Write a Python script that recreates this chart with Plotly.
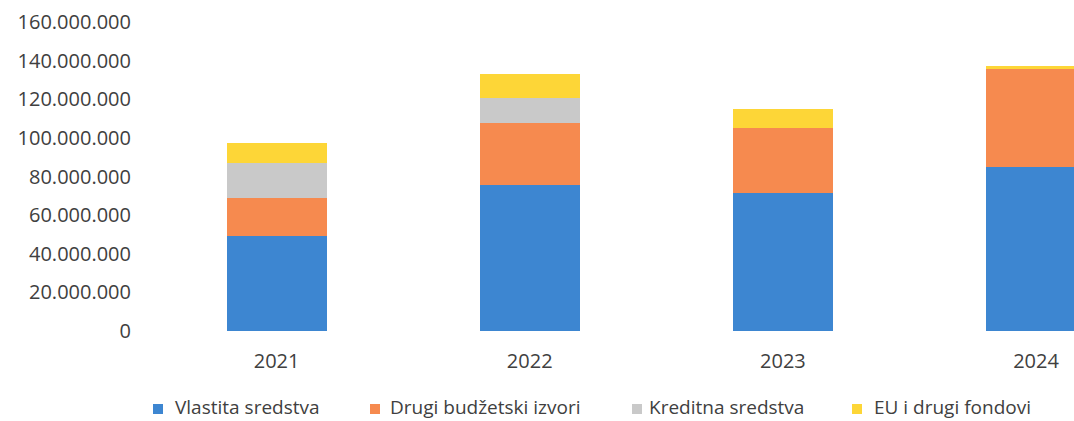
import plotly.graph_objects as go

# Funding sources per year (EUR)
years = ["2021", "2022", "2023", "2024"]
vlastita = [49_300_000, 75_500_000, 71_600_000, 84_700_000]
drugi_budzetski = [19_700_000, 32_000_000, 33_600_000, 51_000_000]
kreditna = [17_800_000, 13_000_000, 0, 0]
eu_fondovi = [10_400_000, 12_500_000, 9_600_000, 1_300_000]

series_names = ["Vlastita sredstva", "Drugi budžetski izvori", "Kreditna sredstva", "EU i drugi fondovi"]
series_values = [vlastita, drugi_budzetski, kreditna, eu_fondovi]
series_colors = ["#3d86d1", "#f68a4f", "#c9c9c9", "#fdd637"]

y_ticks = list(range(0, 160_000_001, 20_000_000))
y_tick_text = [f"{v:,}".replace(",", ".") for v in y_ticks]

FONT = "Open Sans, DejaVu Sans, sans-serif"
TEXT_COLOR = "#404040"

W, H = 1074, 421
L, R, T, B = 150, 0, 22, 90
plot_w, plot_h = W - L - R, H - T - B

fig = go.Figure()
for name, vals, col in zip(series_names, series_values, series_colors):
    fig.add_trace(go.Bar(x=years, y=vals, name=name, marker=dict(color=col, line=dict(width=0)),
                         showlegend=False))

# Legend row drawn under the axis: colour key + label
legend_keys = [153, 370, 632, 852]   # key left edge (px)
legend_text_x = [173, 388, 647, 872]  # label left edge (px)
legend_y = 407
key_size = 10
for name, col, kx, tx in zip(series_names, series_colors, legend_keys, legend_text_x):
    x0 = (kx - L) / plot_w
    x1 = (kx + key_size - L) / plot_w
    y0 = (H - B - (legend_y + 2 + key_size / 2)) / plot_h
    y1 = (H - B - (legend_y + 2 - key_size / 2)) / plot_h
    fig.add_shape(type="rect", xref="paper", yref="paper", x0=x0, x1=x1, y0=y0, y1=y1,
                  fillcolor=col, line=dict(width=0))
    fig.add_annotation(text=name, xref="paper", yref="paper",
                       x=(tx - L) / plot_w, y=(H - B - legend_y) / plot_h,
                       xanchor="left", yanchor="middle", showarrow=False,
                       font=dict(family=FONT, size=19, color=TEXT_COLOR))

fig.update_layout(
    barmode="stack",
    bargap=0.605,
    width=W, height=H,
    margin=dict(l=L, r=R, t=T, b=B, autoexpand=False),
    paper_bgcolor="white",
    plot_bgcolor="white",
    font=dict(family=FONT, size=20, color=TEXT_COLOR),
    xaxis=dict(range=[-0.5, 3.15], showgrid=False, zeroline=False, showline=False,
               ticks="", ticklabelstandoff=16, tickfont=dict(size=20)),
    yaxis=dict(range=[0, 160_000_000], tickvals=y_ticks, ticktext=y_tick_text,
               showgrid=False, zeroline=False, showline=False, ticks="",
               ticklabelstandoff=18, tickfont=dict(size=20)),
)

fig.write_html("out.html")
